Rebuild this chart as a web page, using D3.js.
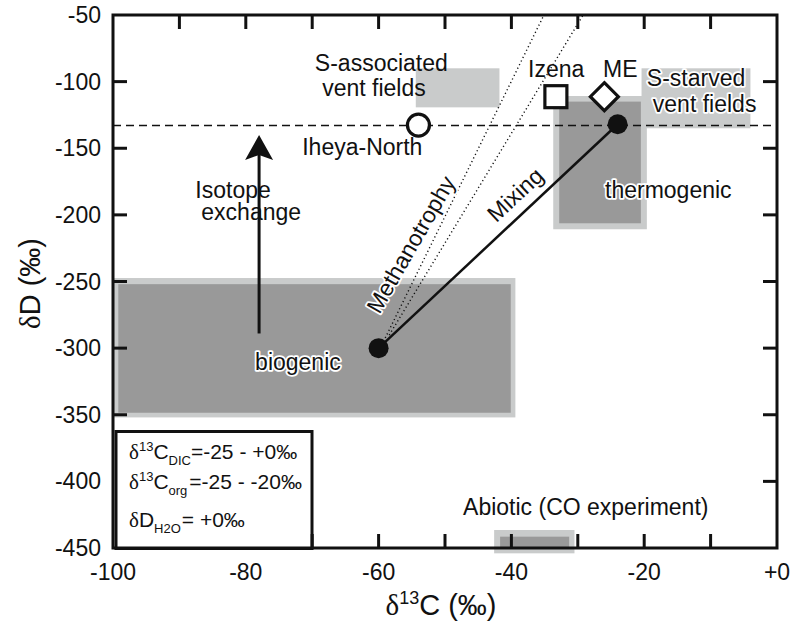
<!DOCTYPE html>
<html>
<head>
<meta charset="utf-8">
<script src="https://cdn.jsdelivr.net/npm/d3@7"></script>
<style>
  body { margin: 0; background: #fff; }
  svg text { font-family: "Liberation Sans", Arial, Helvetica, sans-serif; fill: #111; }
  .halo { paint-order: stroke; stroke: #fff; stroke-width: 3.5px; stroke-linejoin: round; }
  .greek { font-family: "Liberation Serif", "Times New Roman", serif; }
</style>
</head>
<body>
<div id="chart"></div>
<script>
// methane source fields (delta13C range, deltaD range)
const regionNames = ["biogenic", "thermogenic", "abiotic"];
const regionOuterC = [[-100, -39.4], [-33.7, -19.6], [-42.6, -30.5]];
const regionOuterD = [[-352, -247.4], [-210.8, -110.8], [-454, -436.5]];
const regionInnerC = [[-99.2, -40.1], [-32.8, -20.5], [-41.7, -31.3]];
const regionInnerD = [[-348.5, -252], [-206.3, -115], [-450, -441.5]];

// vent field groups
const ventNames = ["S-associated", "S-starved"];
const ventC = [[-54.4, -41.8], [-20.4, -4]];
const ventD = [[-119.3, -90], [-135, -90]];

// measured sites
const siteNames = ["Iheya-North", "Izena", "ME"];
const siteC = [-54, -33.3, -26];
const siteD = [-132.6, -111.3, -111.3];
const siteShapes = ["circle", "square", "diamond"];

// end members of the mixing line
const endC = [-60, -24];
const endD = [-300, -132];

// methanotrophy trends
const methStartC = [-59.0, -58.4];
const methStartD = [-292.4, -290.2];
const methEndC = [-35.1, -29.2];
const methEndD = [-50, -50];

// seawater line and isotope exchange arrow
const dashedD = -133;
const arrowC = -78;
const arrowD = [-289, -140];

// axis ticks
const xTickMinor = d3.range(-90, 0, 10);
const xTickLabels = [-100, -80, -60, -40, -20, 0];
const yTickLabels = [-50, -100, -150, -200, -250, -300, -350, -400, -450];

const W = 790, H = 629;
const m = { left: 113, right: 13, top: 15, bottom: 81 };
const x = d3.scaleLinear().domain([-100, 0]).range([m.left, W - m.right]);
const y = d3.scaleLinear().domain([-50, -450]).range([m.top, H - m.bottom]);

const svg = d3.select("#chart").append("svg").attr("width", W).attr("height", H);

function rect(g, c, d, fill) {
  g.append("rect")
    .attr("x", x(c[0])).attr("width", x(c[1]) - x(c[0]))
    .attr("y", y(d[1])).attr("height", y(d[0]) - y(d[1]))
    .attr("fill", fill);
}

const boxes = svg.append("g");
ventNames.forEach((n, i) => rect(boxes, ventC[i], ventD[i], "#c9cbcb"));
regionNames.forEach((n, i) => rect(boxes, regionOuterC[i], regionOuterD[i], "#c9cbcb"));
regionNames.forEach((n, i) => rect(boxes, regionInnerC[i], regionInnerD[i], "#999999"));

// dashed seawater line
svg.append("line")
  .attr("x1", x(-100)).attr("x2", x(0))
  .attr("y1", y(dashedD)).attr("y2", y(dashedD))
  .attr("stroke", "#111").attr("stroke-width", 1.5).attr("stroke-dasharray", "8,5");

// methanotrophy dotted lines
methStartC.forEach((c, i) => {
  svg.append("line")
    .attr("x1", x(c)).attr("y1", y(methStartD[i]))
    .attr("x2", x(methEndC[i])).attr("y2", y(methEndD[i]))
    .attr("stroke", "#111").attr("stroke-width", 1.4)
    .attr("stroke-dasharray", "1.2,2.8");
});

// mixing line
svg.append("line")
  .attr("x1", x(endC[0])).attr("y1", y(endD[0]))
  .attr("x2", x(endC[1])).attr("y2", y(endD[1]))
  .attr("stroke", "#111").attr("stroke-width", 2.5);

// isotope exchange arrow
svg.append("line")
  .attr("x1", x(arrowC)).attr("x2", x(arrowC))
  .attr("y1", y(arrowD[0])).attr("y2", y(arrowD[1]) + 20)
  .attr("stroke", "#111").attr("stroke-width", 3);
const ax = x(arrowC), ay = y(arrowD[1]);
svg.append("path")
  .attr("d", `M${ax},${ay} L${ax - 14},${ay + 25} L${ax},${ay + 20} L${ax + 14},${ay + 25} Z`)
  .attr("fill", "#111");

// end member dots
endC.forEach((c, i) => {
  svg.append("circle").attr("cx", x(c)).attr("cy", y(endD[i])).attr("r", 10).attr("fill", "#111");
});

// site symbols
siteNames.forEach((n, i) => {
  const cx = x(siteC[i]), cy = y(siteD[i]);
  let s;
  if (siteShapes[i] === "circle") {
    s = svg.append("circle").attr("cx", cx).attr("cy", cy).attr("r", 11);
  } else if (siteShapes[i] === "square") {
    s = svg.append("rect").attr("x", cx - 11).attr("y", cy - 11).attr("width", 22).attr("height", 22);
  } else {
    s = svg.append("path").attr("d", `M${cx},${cy - 14} L${cx + 14},${cy} L${cx},${cy + 14} L${cx - 14},${cy} Z`);
  }
  s.attr("fill", "#fff").attr("stroke", "#111").attr("stroke-width", 3.2);
});

// labels (anchored in data coordinates)
const labels = [
  { t: "S-associated", c: -69.6, d: -92.0 },
  { t: "vent fields", c: -68.5, d: -110.8 },
  { t: "Iheya-North", c: -71.5, d: -155.1 },
  { t: "Isotope", c: -87.6, d: -187.0 },
  { t: "exchange", c: -86.7, d: -204.0 },
  { t: "Izena", c: -37.5, d: -96.5 },
  { t: "ME", c: -26.2, d: -96.5 },
  { t: "S-starved", c: -19.6, d: -103.6, halo: true },
  { t: "vent fields", c: -18.7, d: -122.8, halo: true },
  { t: "thermogenic", c: -25.9, d: -187.3, halo: true },
  { t: "biogenic", c: -78.6, d: -316.4, halo: true },
  { t: "Abiotic (CO experiment)", c: -28.8, d: -425.2, anchor: "middle" },
  { t: "Methanotrophy", c: -54.1, d: -225.2, anchor: "middle", rot: -60, halo: true },
  { t: "Mixing", c: -38.6, d: -189.2, anchor: "middle", rot: -43, halo: true }
];
labels.forEach(l => {
  const px = x(l.c), py = y(l.d);
  svg.append("text")
    .attr("class", l.halo ? "halo" : null)
    .attr("x", px).attr("y", py)
    .attr("text-anchor", l.anchor || "start")
    .attr("transform", l.rot ? `rotate(${l.rot},${px},${py})` : null)
    .style("font-size", "23px")
    .text(l.t);
});

// inset box with conditions
const lg = svg.append("g");
lg.append("rect")
  .attr("x", 116).attr("y", 431.5).attr("width", 196).attr("height", 117)
  .attr("fill", "#fff").attr("stroke", "#111").attr("stroke-width", 3);

function legendLine(yy, sup, main, sub, rest, gap) {
  const t = lg.append("text").attr("x", 129).attr("y", yy).style("font-size", "21px");
  t.append("tspan").attr("class", "greek").text("δ");
  if (sup) t.append("tspan").attr("dy", -8).style("font-size", "13px").text(sup);
  t.append("tspan").attr("dy", sup ? 8 : 0).text(main);
  t.append("tspan").attr("dy", 6).style("font-size", "13px").text(sub);
  t.append("tspan").attr("dy", -6).attr("dx", gap).text(rest);
}
legendLine(459, "13", "C", "DIC", "=-25 - +0‰", 0);
legendLine(489, "13", "C", "org", "=-25 - -20‰", 2);
legendLine(527, null, "D", "H2O", "= +0‰", 1);

// frame and ticks
const frame = svg.append("g").attr("stroke", "#111").attr("stroke-width", 3);
frame.append("rect")
  .attr("x", x(-100)).attr("y", y(-50))
  .attr("width", x(0) - x(-100)).attr("height", y(-450) - y(-50))
  .attr("fill", "none");

const tl = 14;
xTickMinor.forEach(v => {
  frame.append("line").attr("x1", x(v)).attr("x2", x(v)).attr("y1", y(-50)).attr("y2", y(-50) + tl);
  if (v > -70) frame.append("line").attr("x1", x(v)).attr("x2", x(v)).attr("y1", y(-450)).attr("y2", y(-450) - tl);
});
frame.append("line").attr("x1", x(-70)).attr("x2", x(-70)).attr("y1", y(-450)).attr("y2", y(-450) - tl);
yTickLabels.slice(1, -1).forEach(v => {
  if (v > -360) frame.append("line").attr("x1", x(-100)).attr("x2", x(-100) + tl).attr("y1", y(v)).attr("y2", y(v));
  frame.append("line").attr("x1", x(0)).attr("x2", x(0) - tl).attr("y1", y(v)).attr("y2", y(v));
});

// tick labels
yTickLabels.forEach(v => {
  svg.append("text")
    .attr("x", 101).attr("y", y(v) + 8)
    .attr("text-anchor", "end").style("font-size", "23px")
    .text(v);
});
xTickLabels.forEach(v => {
  svg.append("text")
    .attr("x", x(v)).attr("y", 580)
    .attr("text-anchor", "middle").style("font-size", "23px")
    .text(v === 0 ? "+0" : v);
});

// axis titles
const xt = svg.append("text").attr("x", x(-50) - 4).attr("y", 615)
  .attr("text-anchor", "middle").style("font-size", "29px");
xt.append("tspan").attr("class", "greek").text("δ");
xt.append("tspan").attr("dy", -11).style("font-size", "18px").text("13");
xt.append("tspan").attr("dy", 11).text("C (‰)");

const yt = svg.append("text")
  .attr("transform", `translate(40,${(y(-50) + y(-450)) / 2 + 2}) rotate(-90)`)
  .attr("text-anchor", "middle").style("font-size", "29px");
yt.append("tspan").attr("class", "greek").text("δ");
yt.append("tspan").text("D (‰)");
</script>
</body>
</html>
